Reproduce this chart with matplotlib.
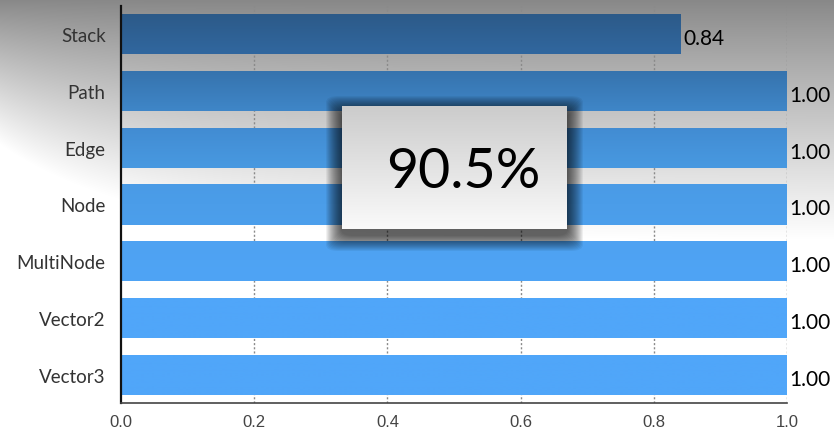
import numpy as np
import matplotlib
matplotlib.use("Agg")
import matplotlib.pyplot as plt
from matplotlib.colors import to_rgb
from matplotlib.patches import FancyBboxPatch

# data
categories = ["Stack", "Path", "Edge", "Node", "MultiNode", "Vector2", "Vector3"]
values = [0.84, 1.00, 1.00, 1.00, 1.00, 1.00, 1.00]
score_text = "90.5%"
xticks = [0.0, 0.2, 0.4, 0.6, 0.8, 1.0]

# bar shading (top colour, bottom colour)
bar_top = ["#2c5a88", "#3673ad", "#428cd2", "#4a9be6", "#4ea2f2", "#50a6f9", "#50a6f9"]
bar_bot = ["#31679f", "#3f86c8", "#4899e1", "#4c9fec", "#4fa4f5", "#50a6f9", "#50a6f9"]

W, H = 834, 431
fig = plt.figure(figsize=(W / 100, H / 100), dpi=100)

# background gradient: grey at the top, fading to white, lighter on the left
bg = fig.add_axes([0, 0, 1, 1], zorder=-10)
yy, xx = np.mgrid[0:H, 0:W]
reach = 240 - 95 * np.exp(-xx / 140.0)
t = np.clip(yy / reach, 0, 1)
v = 0.53 + 0.47 * t ** 0.9
bg.imshow(np.dstack([v, v, v]), extent=[0, W, H, 0], aspect="auto")
bg.set_xlim(0, W)
bg.set_ylim(H, 0)
bg.axis("off")

ax = fig.add_axes([121 / W, 27 / H, 666 / W, 397 / H])
ax.patch.set_alpha(0)

ypos = np.arange(len(categories))
bars = ax.barh(ypos, values, height=0.71, color="none", zorder=2)
for i, b in enumerate(bars):
    c1 = np.array(to_rgb(bar_top[i]))
    c2 = np.array(to_rgb(bar_bot[i]))
    g = np.linspace(0, 1, 50)[:, None]
    img = c1[None, :] * (1 - g) + c2[None, :] * g
    x0, y0 = b.get_x(), b.get_y()
    im = ax.imshow(img[:, None, :], extent=[x0, x0 + b.get_width(), y0 + b.get_height(), y0],
                   aspect="auto", zorder=2, interpolation="bilinear")
    im.set_clip_path(b)
    ax.text(b.get_width() + 0.004, i + 0.07, "%.2f" % values[i], va="center", ha="left",
            fontsize=15, family="Lato", color="black", clip_on=False)

ax.set_xlim(0, 1.0)
ax.set_ylim(len(categories) - 0.5, -0.5)
ax.set_yticks(ypos)
ax.set_yticklabels(categories, family="Lato", fontsize=13.5, color="#333333")
ax.set_xticks(xticks)
ax.set_xticklabels(["%.1f" % x for x in xticks], family="Liberation Sans", fontsize=12, color="#444444")
ax.tick_params(length=0, pad=11)
ax.tick_params(axis="x", pad=8)
for x in xticks[1:]:
    ax.axvline(x, color="#8a8a8a", linestyle=(0, (1.5, 1.5)), linewidth=1, zorder=1)
for s in ["top", "right"]:
    ax.spines[s].set_visible(False)
ax.spines["left"].set_color("#111111")
ax.spines["left"].set_linewidth(1.6)
ax.spines["bottom"].set_color("#444444")
ax.spines["bottom"].set_linewidth(1.2)

# score box with soft shadow
bx, by, bw, bh = 342, 201, 225, 123  # pixels from bottom-left
for k in range(16, 0, -1):
    sh = FancyBboxPatch(((bx - k * 1.0) / W, (by - 6 - k * 1.0) / H), (bw + k * 2.0) / W,
                        (bh + k * 2.0) / H, boxstyle="round,pad=0,rounding_size=0.015",
                        transform=fig.transFigure, facecolor="black", edgecolor="none",
                        alpha=0.055, zorder=5)
    fig.add_artist(sh)
box = fig.add_axes([bx / W, by / H, bw / W, bh / H], zorder=6)
g = np.linspace(0.80, 0.98, 100)[:, None]
box.imshow(np.dstack([g, g, g]), extent=[0, 1, 0, 1], aspect="auto", origin="upper")
box.set_xlim(0, 1)
box.set_ylim(0, 1)
box.axis("off")
box.text(0.54, 0.47, score_text, ha="center", va="center", fontsize=40, family="Lato", color="black")

fig.savefig("out.png", dpi=100)
